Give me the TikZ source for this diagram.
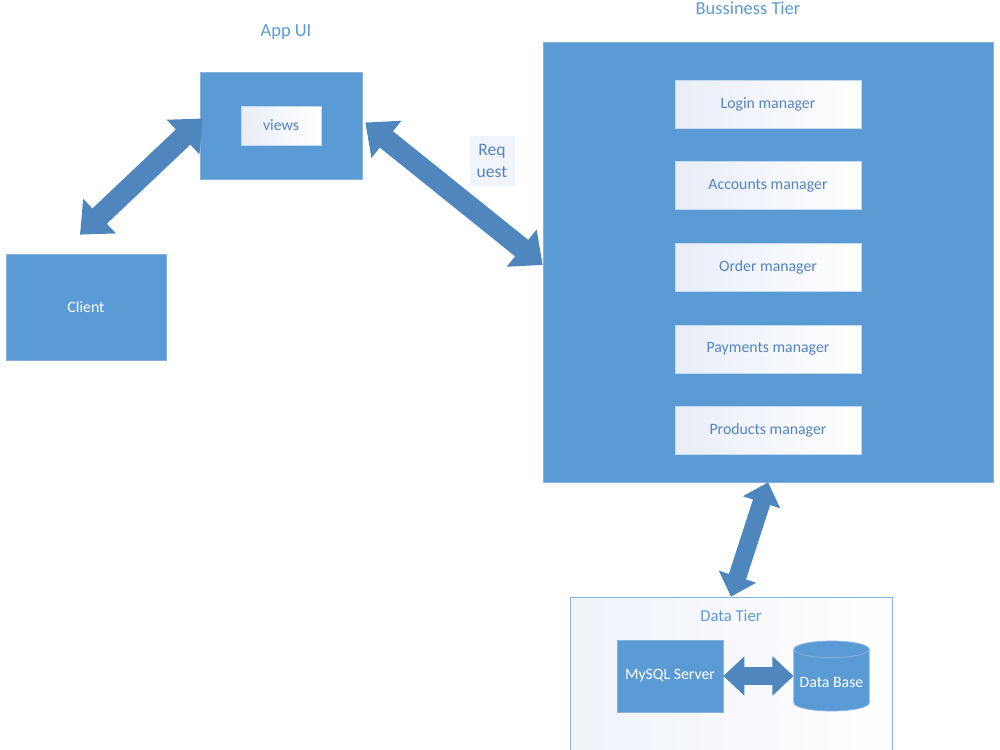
\documentclass[tikz,border=0pt]{standalone}
\usepackage{fontspec}
\setmainfont{Carlito}
\usetikzlibrary{arrows.meta, positioning, calc, shapes.geometric}
\definecolor{tierblue}{RGB}{91,155,213}
\definecolor{edgeblue}{RGB}{135,178,224}
\definecolor{arrowblue}{RGB}{78,134,189}
\definecolor{textblue}{RGB}{84,132,196}
\definecolor{paleblue}{RGB}{232,237,247}
\tikzset{
  tier/.style={draw=edgeblue, fill=tierblue, text=white, font=\fontsize{9}{11}\selectfont},
  card/.style={draw=edgeblue!50, left color=paleblue, right color=white, text=textblue,
    minimum width=3.72cm, minimum height=0.96cm, font=\fontsize{9}{11}\selectfont},
  title/.style={text=tierblue, font=\fontsize{10.5}{12}\selectfont},
  blockarr/.style={arrowblue, line width=0.42cm,
    {Triangle[width=0.92cm, length=0.54cm]}-{Triangle[width=0.92cm, length=0.54cm]}},
  smallarr/.style={arrowblue, line width=0.36cm,
    {Triangle[width=0.76cm, length=0.42cm]}-{Triangle[width=0.76cm, length=0.42cm]}},
}

\begin{document}
\begin{tikzpicture}[x=0.02cm, y=-0.02cm, node distance=0.66cm]
    \useasboundingbox (0,0) rectangle (1000,750);
    % presentation side
    \node[title] (apptitle) at (286,32) {App UI};
    \node[tier, minimum width=3.24cm, minimum height=2.14cm] (appui) at (281,125.5) {};
    \node[card, minimum width=1.6cm, minimum height=0.78cm] (views) at (appui) {views};
    \node[tier, minimum width=3.2cm, minimum height=2.12cm] (client) at (86,307) {Client};
    \node[fill=paleblue!60, text=textblue, align=center, minimum width=0.9cm, minimum height=1cm,
      font=\fontsize{10}{12.5}\selectfont] (req) at (492,161) {Req\\uest};
    % business tier
    \node[title] (biztitle) at (748,8) {Bussiness Tier};
    \node[tier, minimum width=9cm, minimum height=8.8cm] (biz) at (768,262) {};
    \node[card] (login) at (768,104) {Login manager};
    \node[card, below=of login] (accounts) {Accounts manager};
    \node[card, below=of accounts] (order) {Order manager};
    \node[card, below=of order] (payments) {Payments manager};
    \node[card, below=of payments] (products) {Products manager};
    % data tier
    \node[draw=edgeblue, left color=paleblue!70, right color=white, minimum width=6.44cm,
      minimum height=3.3cm] (data) at (731,679.5) {};
    \node[title, font=\fontsize{9.5}{11}\selectfont] (datatitle) at (731,616) {Data Tier};
    \node[tier, minimum width=2.12cm, minimum height=1.44cm] (mysql) at (670,676) {MySQL Server};
    \node[tier, cylinder, shape border rotate=90, aspect=0.22, minimum width=1.46cm,
      minimum height=1.4cm, anchor=shape center] (db) at (831.5,676) {Data Base};
    \draw[blockarr] ($(appui.west)+(3,-7)$) -- ($(client.north)+(-6,-19)$);
    \draw[blockarr] ($(appui.east)+(3,-3)$) -- ($(biz.west)+(0,3)$);
    \draw[smallarr] (biz.south) -- (data.north);
    \draw[smallarr] (mysql.east) -- (mysql.east -| db.180);
\end{tikzpicture}
\end{document}
